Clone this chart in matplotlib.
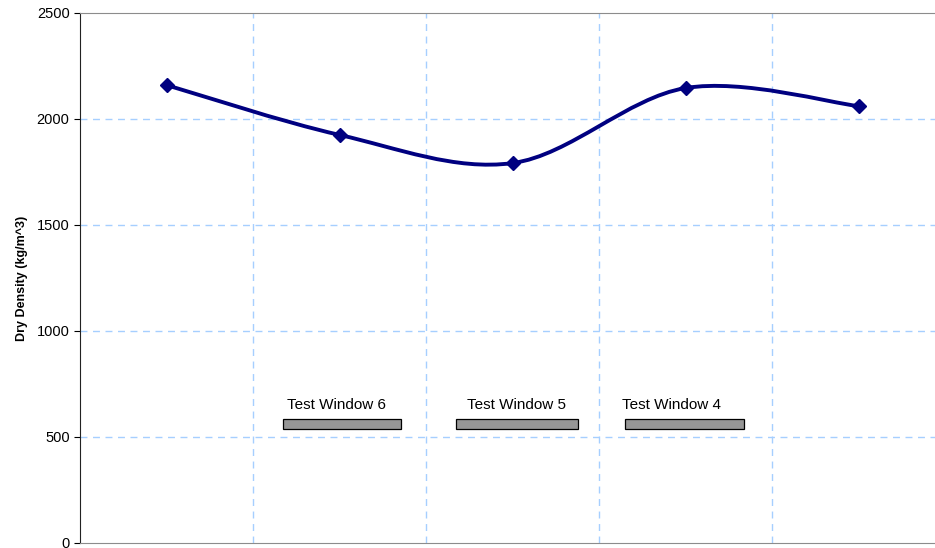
import matplotlib.pyplot as plt
from matplotlib.path import Path
from matplotlib.patches import PathPatch

plt.rcParams['font.family'] = ['Liberation Sans', 'DejaVu Sans']

# dry density per sample position
positions = [0, 1, 2, 3, 4]
density = [2160, 1925, 1792, 2146, 2061]

# test windows drawn as bars under the curve
windows = ['Test Window 6', 'Test Window 5', 'Test Window 4']
win_start = [0.671, 1.671, 2.653]
win_end = [1.353, 2.376, 3.341]
win_label_x = [0.983, 2.023, 2.919]
win_low, win_high = 538, 585
label_y = 652

grid_col = '#a6cfff'

fig = plt.figure(figsize=(9.35, 5.48), dpi=100)
ax = fig.add_axes([80 / 935, 5 / 548, 865 / 935, 530 / 548])

# smoothed line as cubic bezier segments (Catmull-Rom style control points)
pts = list(zip(positions, density))
verts = [pts[0]]
codes = [Path.MOVETO]
n = len(pts)
for i in range(n - 1):
    p0 = pts[max(i - 1, 0)]
    p1 = pts[i]
    p2 = pts[i + 1]
    p3 = pts[min(i + 2, n - 1)]
    c1 = (p1[0] + (p2[0] - p0[0]) / 6, p1[1] + (p2[1] - p0[1]) / 6)
    c2 = (p2[0] - (p3[0] - p1[0]) / 6, p2[1] - (p3[1] - p1[1]) / 6)
    verts += [c1, c2, p2]
    codes += [Path.CURVE4] * 3
ax.add_patch(PathPatch(Path(verts, codes), facecolor='none',
                       edgecolor='#000080', lw=2.8, zorder=4))
ax.plot(positions, density, linestyle='none', marker='D', markersize=7,
        color='#000080', zorder=5)

for name, s, e, lx in zip(windows, win_start, win_end, win_label_x):
    ax.barh(y=(win_low + win_high) / 2, width=e - s, left=s,
            height=win_high - win_low, color='#969696', edgecolor='black',
            linewidth=0.9, zorder=3)
    ax.text(lx, label_y, name, ha='center', va='center', fontsize=11)

ax.set_xlim(-0.5, 4.5)
ax.set_ylim(0, 2500)
ax.set_yticks([0, 500, 1000, 1500, 2000, 2500])
ax.set_xticks([])

for v in [0.5, 1.5, 2.5, 3.5]:
    ax.axvline(v, color=grid_col, lw=1, linestyle=(0, (5, 4)), zorder=1)
for h in [500, 1000, 1500, 2000]:
    ax.axhline(h, color=grid_col, lw=1, linestyle=(0, (5, 4)), zorder=1)

ax.spines['right'].set_visible(False)
ax.spines['top'].set_color('#8c8c8c')
ax.spines['bottom'].set_color('#8c8c8c')
ax.spines['left'].set_color('#222222')
ax.tick_params(axis='y', direction='out', length=4, labelsize=10.5,
               colors='black')

ax.set_ylabel('Dry Density (kg/m^3)', fontsize=9, fontweight='bold',
              labelpad=6)

fig.savefig('out.png', dpi=100)
